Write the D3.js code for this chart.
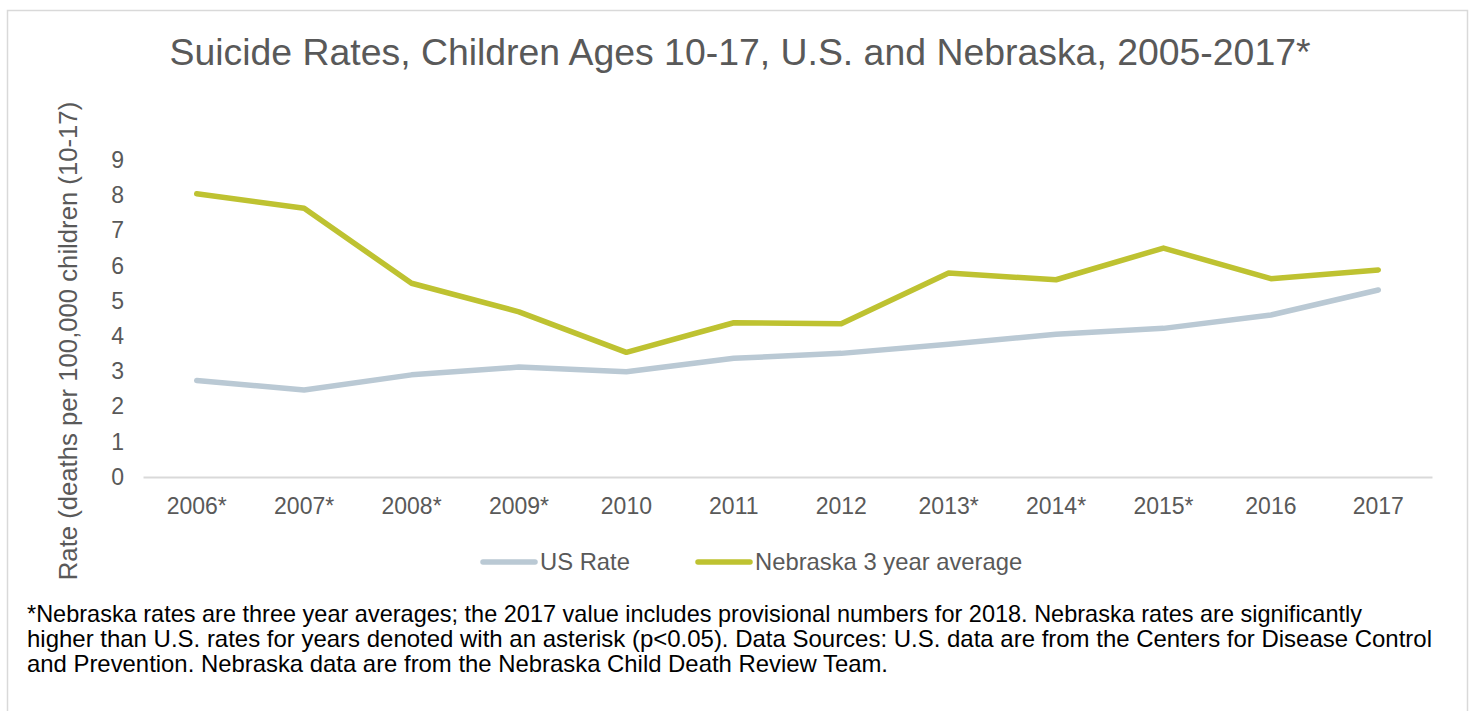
<!DOCTYPE html>
<html>
<head>
<meta charset="utf-8">
<script src="https://cdn.jsdelivr.net/npm/d3@7"></script>
<style>
  html, body { margin: 0; padding: 0; background: #fff; }
  svg { display: block; font-family: "Liberation Sans", Arial, sans-serif; }
</style>
</head>
<body>
<svg id="chart" width="1478" height="711"></svg>
<script>
// Years on the category axis (asterisk = Nebraska significantly higher)
const years = ["2006*", "2007*", "2008*", "2009*", "2010", "2011", "2012", "2013*", "2014*", "2015*", "2016", "2017"];
// Suicide rate per 100,000 children ages 10-17
const usRate = [2.74, 2.47, 2.90, 3.12, 2.99, 3.37, 3.51, 3.77, 4.05, 4.22, 4.60, 5.31];
const nebraskaAvg = [8.04, 7.63, 5.50, 4.69, 3.54, 4.38, 4.35, 5.79, 5.60, 6.50, 5.63, 5.88];
const yTicks = [0, 1, 2, 3, 4, 5, 6, 7, 8, 9];

const titleText = "Suicide Rates, Children Ages 10-17, U.S. and Nebraska, 2005-2017*";
const yTitle = "Rate (deaths per 100,000 children (10-17)";
const seriesNames = ["US Rate", "Nebraska 3 year average"];
const footnote = [
  "*Nebraska rates are three year averages; the 2017 value includes provisional numbers for 2018. Nebraska rates are significantly",
  "higher than U.S. rates for years denoted with an asterisk (p<0.05). Data Sources: U.S. data are from the Centers for Disease Control",
  "and Prevention. Nebraska data are from the Nebraska Child Death Review Team."
];

const colors = { us: "#bac9d4", ne: "#bec231", text: "#595959", axis: "#d9d9d9" };

const svg = d3.select("#chart");

// outer frame
svg.append("rect")
  .attr("x", 7.5).attr("y", 10.5)
  .attr("width", 1460).attr("height", 720)
  .attr("fill", "#fff").attr("stroke", "#d9d9d9").attr("stroke-width", 1.5);

const plot = { left: 143, right: 1432, top: 160, bottom: 477 };

const x = d3.scaleBand().domain(years).range([plot.left, plot.right]);
const y = d3.scaleLinear().domain([0, 9]).range([plot.bottom, plot.top]);

// title
svg.append("text")
  .attr("x", 740).attr("y", 65)
  .attr("text-anchor", "middle")
  .attr("fill", colors.text)
  .attr("font-size", 37.4)
  .text(titleText);

// y-axis tick labels
const yAxis = d3.axisLeft(y).tickValues(yTicks).tickSize(0).tickPadding(0).tickFormat(d3.format("d"));
const gy = svg.append("g").attr("transform", "translate(124,0)").call(yAxis);
gy.select(".domain").remove();
gy.selectAll("text").attr("fill", colors.text).attr("font-size", 23)
  .attr("font-family", "Liberation Sans, Arial, sans-serif");

// x baseline and labels
const xAxis = d3.axisBottom(x).tickSize(0).tickPadding(21);
const gx = svg.append("g").attr("transform", `translate(0,${plot.bottom})`).call(xAxis);
gx.select(".domain").attr("stroke", colors.axis).attr("stroke-width", 1.8);
gx.selectAll("text").attr("fill", colors.text).attr("font-size", 23)
  .attr("font-family", "Liberation Sans, Arial, sans-serif");

// y-axis title
svg.append("text")
  .attr("transform", "translate(77,341) rotate(-90)")
  .attr("text-anchor", "middle")
  .attr("fill", colors.text)
  .attr("font-size", 25.7)
  .text(yTitle);

const cx = d => x(d) + x.bandwidth() / 2;
const line = d3.line().x(d => cx(d.year)).y(d => y(d.value));

const usData = years.map((yr, i) => ({ year: yr, value: usRate[i] }));
const neData = years.map((yr, i) => ({ year: yr, value: nebraskaAvg[i] }));

svg.append("path").datum(usData)
  .attr("d", line).attr("fill", "none")
  .attr("stroke", colors.us).attr("stroke-width", 5.5)
  .attr("stroke-linecap", "round").attr("stroke-linejoin", "round");

svg.append("path").datum(neData)
  .attr("d", line).attr("fill", "none")
  .attr("stroke", colors.ne).attr("stroke-width", 5.5)
  .attr("stroke-linecap", "round").attr("stroke-linejoin", "round");

// legend
const legend = [
  { name: seriesNames[0], color: colors.us, x: 483 },
  { name: seriesNames[1], color: colors.ne, x: 698 }
];
const lg = svg.append("g").selectAll("g").data(legend).join("g")
  .attr("transform", d => `translate(${d.x},562)`);
lg.append("line").attr("x1", 0).attr("x2", 52).attr("y1", 0).attr("y2", 0)
  .attr("stroke", d => d.color).attr("stroke-width", 5.5).attr("stroke-linecap", "round");
lg.append("text").attr("x", 57).attr("y", 8)
  .attr("fill", colors.text).attr("font-size", 23.8)
  .text(d => d.name);

// footnote, each line fitted to its width
const footWidths = [1335, 1405, 861];
svg.append("g").selectAll("text").data(footnote).join("text")
  .attr("x", 27)
  .attr("y", (d, i) => 621.5 + i * 25)
  .attr("fill", "#000")
  .attr("font-size", 23.8)
  .attr("textLength", (d, i) => footWidths[i])
  .attr("lengthAdjust", "spacingAndGlyphs")
  .text(d => d);
</script>
</body>
</html>
